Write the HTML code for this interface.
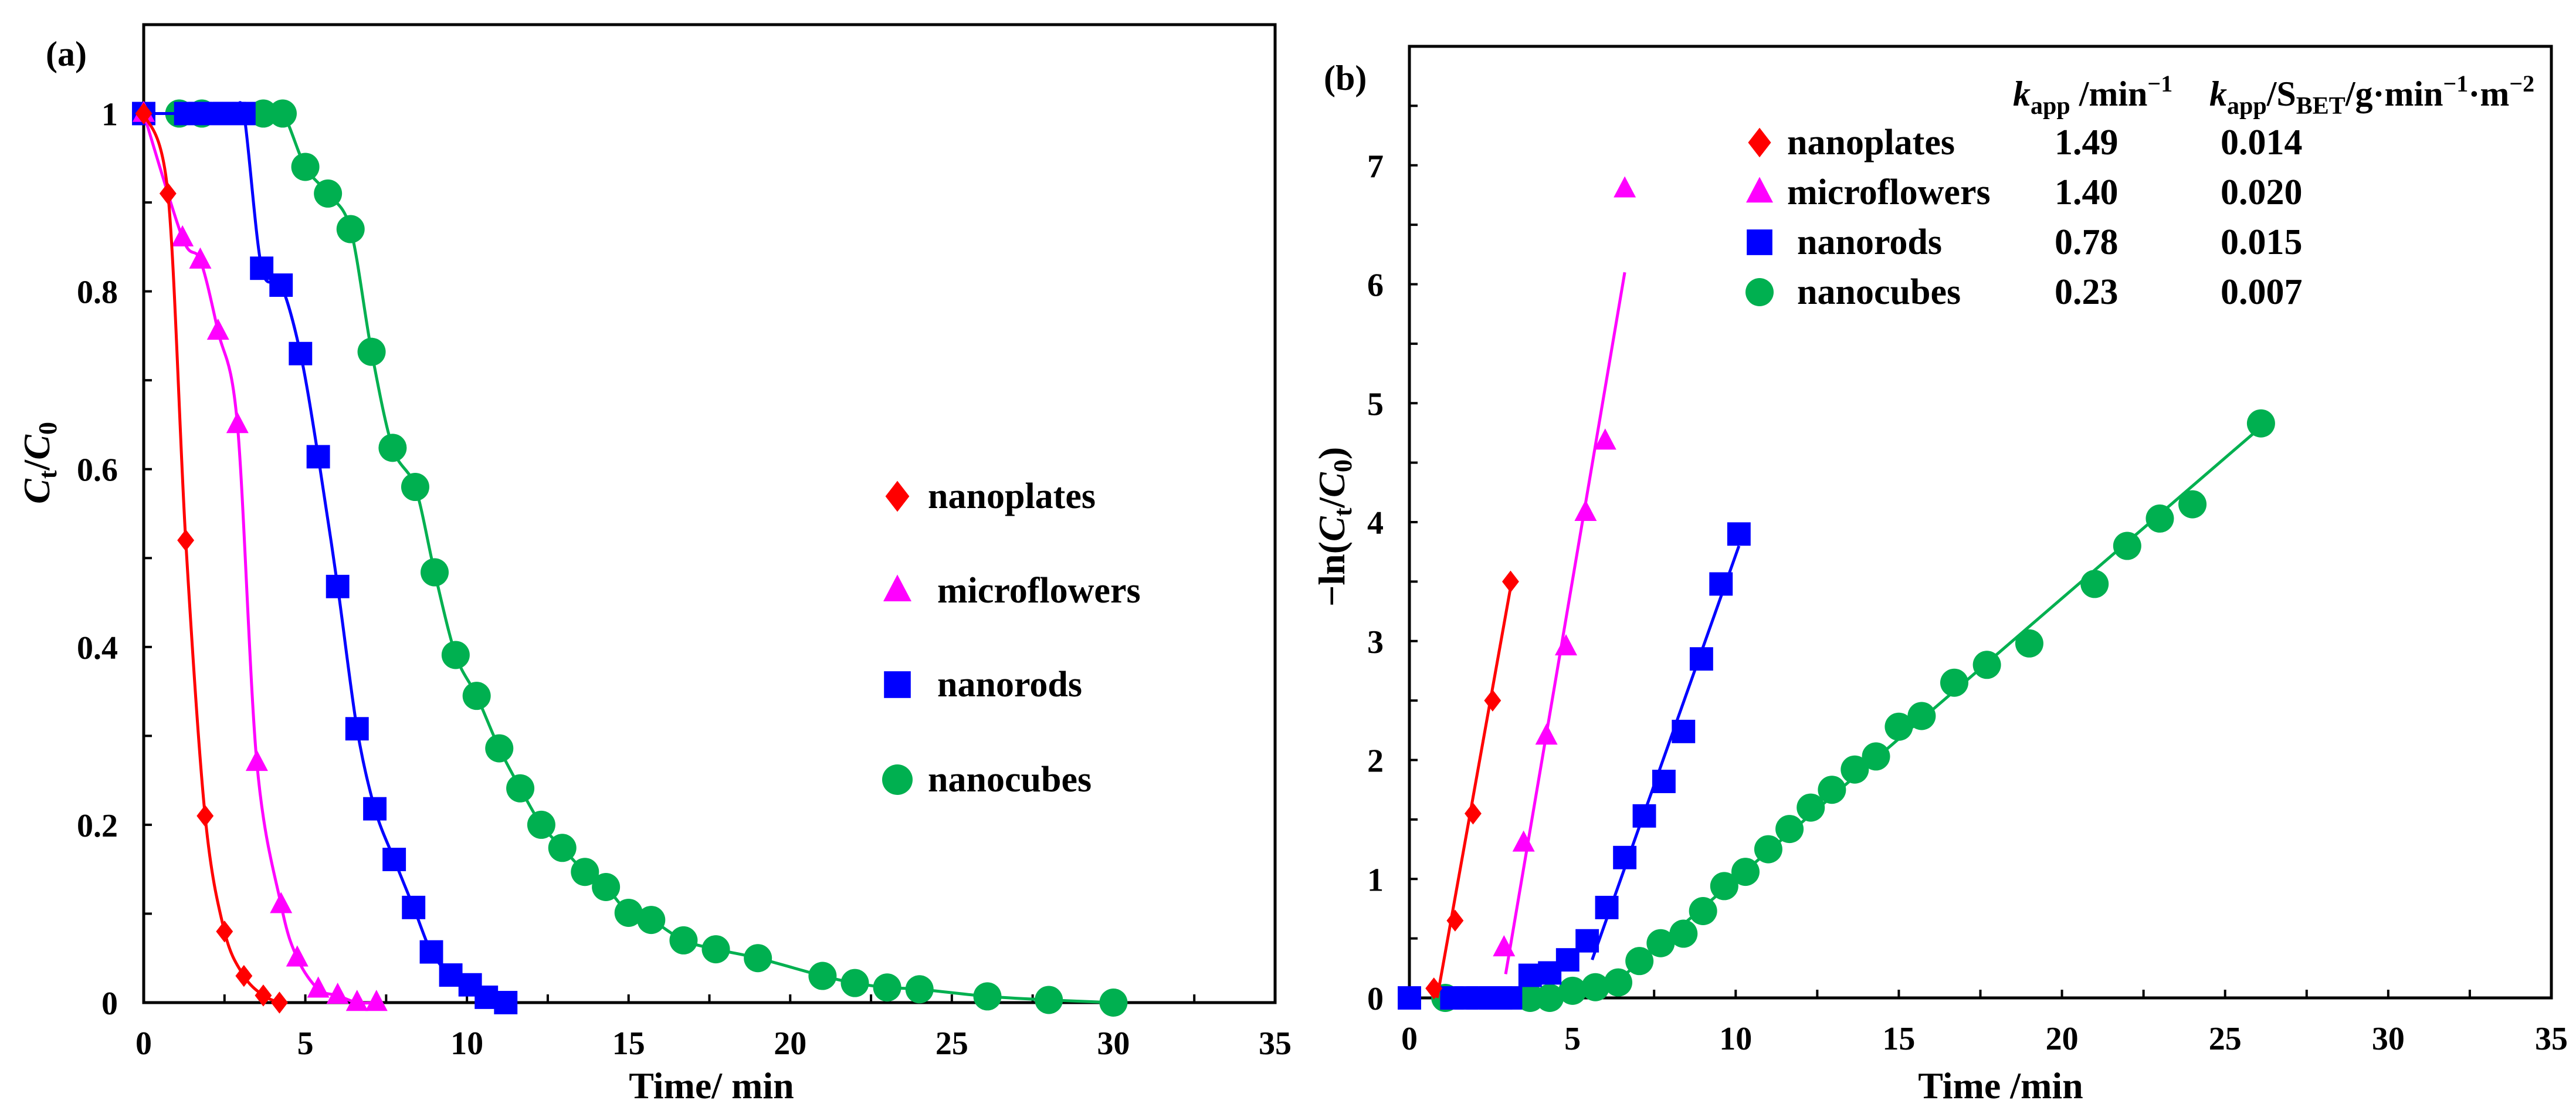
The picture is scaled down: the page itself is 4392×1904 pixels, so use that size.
<!DOCTYPE html>
<html><head><meta charset="utf-8"><style>
html,body{margin:0;padding:0;background:#fff;}
svg{display:block;font-family:"Liberation Serif",serif;font-weight:bold;}
</style></head><body>
<svg id="fig" width="4392" height="1904" viewBox="0 0 4392 1904"></svg>
<script>
// ---------- Panel (a) data ----------
const aSeriesNames = ["nanoplates","microflowers","nanorods","nanocubes"];
const aPlatesT = [0,0.75,1.3,1.9,2.5,3.1,3.7,4.2];
const aPlatesC = [1,0.91,0.52,0.21,0.08,0.03,0.008,0];
const aFlowT = [0,1.2,1.75,2.3,2.9,3.5,4.25,4.75,5.4,6,6.6,7.2];
const aFlowC = [1,0.86,0.835,0.755,0.65,0.27,0.11,0.05,0.015,0.008,0,0];
const aRodT = [0,1.3,1.75,2.1,2.5,2.8,3.1,3.65,4.25,4.85,5.4,6,6.6,7.15,7.75,8.35,8.9,9.5,10.1,10.6,11.2];
const aRodC = [1,1,1,1,1,1,1,0.826,0.807,0.73,0.614,0.468,0.308,0.218,0.161,0.107,0.057,0.031,0.02,0.006,0];
const aCubeT = [1.1,1.8,3.7,4.3,5,5.7,6.4,7.05,7.7,8.4,9,9.65,10.3,11,11.65,12.3,12.95,13.65,14.3,15,15.7,16.7,17.7,19,21,22,23,24,26.1,28,30];
const aCubeC = [1,1,1,1,0.94,0.91,0.87,0.732,0.624,0.58,0.484,0.391,0.345,0.286,0.241,0.2,0.174,0.147,0.13,0.101,0.093,0.07,0.06,0.05,0.03,0.022,0.017,0.015,0.007,0.003,0];
const aXTicks = [0,5,10,15,20,25,30,35];
const aYTicks = [0,0.2,0.4,0.6,0.8,1];
const aYTickLabels = ["0","0.2","0.4","0.6","0.8","1"];

// ---------- Panel (b) data ----------
const bPlatesT = [0.75,1.4,1.95,2.55,3.1];
const bPlatesV = [0.08,0.65,1.55,2.5,3.5];
const bPlatesFitT = [0.85,3.1];
const bPlatesFitV = [0,3.45];
const bFlowT = [2.9,3.5,4.2,4.8,5.4,6,6.6];
const bFlowV = [0.42,1.3,2.2,2.95,4.08,4.68,6.8];
const bFlowFitT = [2.95,6.6];
const bFlowFitV = [0.2,6.1];
const bRodT = [0,1.3,1.75,2.1,2.5,2.8,3.1,3.7,4.3,4.85,5.45,6.05,6.6,7.2,7.8,8.4,8.95,9.55,10.1];
const bRodV = [0,0,0,0,0,0,0,0.19,0.21,0.32,0.48,0.76,1.18,1.53,1.82,2.24,2.85,3.48,3.9];
const bRodFitT = [5.6,10.1];
const bRodFitV = [0.32,3.8];
const bCubeT = [1.1,3.7,4.3,5,5.7,6.4,7.05,7.7,8.4,9,9.65,10.3,11,11.65,12.3,12.95,13.65,14.3,15,15.7,16.7,17.7,19,21,22,23,24,26.1];
const bCubeV = [0,0,0,0.06,0.09,0.13,0.31,0.46,0.54,0.73,0.94,1.06,1.25,1.42,1.6,1.75,1.92,2.03,2.28,2.37,2.65,2.8,2.98,3.48,3.8,4.03,4.15,4.83];
const bCubeFitT = [6.2,26.1];
const bCubeFitV = [0.1,4.8];
const bXTicks = [0,5,10,15,20,25,30,35];
const bYTicks = [0,1,2,3,4,5,6,7];
const bKapp = ["1.49","1.40","0.78","0.23"];
const bKappS = ["0.014","0.020","0.015","0.007"];

const NS="http://www.w3.org/2000/svg";
const svg=document.getElementById('fig');
function mk(tag,attrs,parent){const e=document.createElementNS(NS,tag);for(const k in attrs)e.setAttribute(k,attrs[k]);(parent||svg).appendChild(e);return e;}
const COL={nanoplates:"#ff0000",microflowers:"#ff00ff",nanorods:"#0000ff",nanocubes:"#00b050"};

function marker(g,type,x,y,s){
  const c=COL[type];let e;
  if(type==="nanoplates"){e=mk('polygon',{points:`${x},${y-s*1.1} ${x+s*0.85},${y} ${x},${y+s*1.1} ${x-s*0.85},${y}`,fill:c},g);}
  else if(type==="microflowers"){e=mk('polygon',{points:`${x},${y-s*1.15} ${x+s},${y+s*0.75} ${x-s},${y+s*0.75}`,fill:c},g);}
  else if(type==="nanorods"){e=mk('rect',{x:x-s*0.95,y:y-s*0.95,width:s*1.9,height:s*1.9,fill:c},g);}
  else {e=mk('ellipse',{cx:x,cy:y,rx:s,ry:s,fill:c},g);}
  return e;
}
function smoothPath(pts){
  let d=`M${pts[0][0]},${pts[0][1]}`;
  for(let i=0;i<pts.length-1;i++){
    const p0=pts[i-1]||pts[i],p1=pts[i],p2=pts[i+1],p3=pts[i+2]||p2;
    const t=0.16;
    const c1=[p1[0]+(p2[0]-p0[0])*t,p1[1]+(p2[1]-p0[1])*t];
    const c2=[p2[0]-(p3[0]-p1[0])*t,p2[1]-(p3[1]-p1[1])*t];
    d+=` C${c1[0]},${c1[1]} ${c2[0]},${c2[1]} ${p2[0]},${p2[1]}`;
  }
  return d;
}
function text(g,str,x,y,size,anchor,extra){const t=mk('text',Object.assign({x:x,y:y,'font-size':size,'text-anchor':anchor||'start',fill:'#000'},extra||{}),g);t.textContent=str;return t;}

function axes(g,L,R,T,B,xs,ys,xTicks,yTicks,yLabels,xMinorStep,yMinorStep,xMax,yMax){
  // minor ticks
  for(let v=0;v<=xMax+1e-9;v+=xMinorStep){const X=xs(v);mk('line',{x1:X,x2:X,y1:B,y2:B-14,stroke:'#000','stroke-width':4},g);}
  for(let v=0;v<=yMax+1e-9;v+=yMinorStep){const Y=ys(v);mk('line',{x1:L,x2:L+14,y1:Y,y2:Y,stroke:'#000','stroke-width':4},g);}
  const frame=mk('rect',{x:L,y:T,width:R-L,height:B-T,fill:'none',stroke:'#000','stroke-width':5},g);
  
  
  xTicks.forEach(v=>{const t=text(g,String(v),xs(v),B+88,56,'middle');
    
    });
  yTicks.forEach((v,i)=>{const t=text(g,yLabels[i],L-44,ys(v)+20,56,'end');
    
    });
}

// ================= Panel A =================
(function(){
  const L=245,R=2174,T=42,B=1709;
  const xs=v=>L+(R-L)*v/35, ys=v=>B-(B-T)*v/1.1;
  const g=mk('g',{});
  
  
  axes(g,L,R,T,B,xs,ys,aXTicks,aYTicks,aYTickLabels,2.5,0.1,35,1.1);
  const sets=[["nanocubes",aCubeT,aCubeC,24],["nanorods",aRodT,aRodC,21],["microflowers",aFlowT,aFlowC,19],["nanoplates",aPlatesT,aPlatesC,17]];
  sets.forEach(([name,T2,C,s])=>{
    const sg=mk('g',{},g);
    
    
    const pts=T2.map((t,i)=>[xs(t),ys(C[i])]);
    if(name==="nanocubes") pts.unshift([xs(0),ys(1)]);
    const p=mk('path',{d:smoothPath(pts),fill:'none',stroke:COL[name],'stroke-width':5},sg);
    
    
    T2.forEach((t,i)=>{const m=marker(sg,name,xs(t),ys(C[i]),s);
      
      });
  });
  // legend
  const lg=mk('g',{},g);
  
  
  const rows=[846,1007,1167,1329];
  aSeriesNames.forEach((n,i)=>{
    const m=marker(lg,n,1530,rows[i],n==="nanocubes"?26:24);
    
    
    const t=text(lg,n,n==="nanoplates"||n==="nanocubes"?1582:1598,rows[i]+20,62,'start');
    
    
  });
  const la=text(g,"(a)",78,112,60,'start');
  
  
  const xt=text(g,"Time/ min",1213,1872,64,'middle');
  
  
  const yt=mk('text',{x:0,y:0,'font-size':64,'text-anchor':'middle',transform:'translate(84,789) rotate(-90)'},g);
  
  
  yt.innerHTML='<tspan font-style="italic">C</tspan><tspan font-size="44" dy="12">t</tspan><tspan dy="-12">/</tspan><tspan font-style="italic">C</tspan><tspan font-size="44" dy="12">0</tspan>';
})();

// ================= Panel B =================
(function(){
  const L=2403,R=4350,T=79,B=1701;
  const xs=v=>L+(R-L)*v/35, ys=v=>B-(B-T)*v/8;
  const g=mk('g',{});
  
  
  axes(g,L,R,T,B,xs,ys,bXTicks,bYTicks,bYTicks.map(String),2.5,0.5,35,8);
  const sets=[["nanocubes",bCubeT,bCubeV,bCubeFitT,bCubeFitV,24],["nanorods",bRodT,bRodV,bRodFitT,bRodFitV,21],["microflowers",bFlowT,bFlowV,bFlowFitT,bFlowFitV,19],["nanoplates",bPlatesT,bPlatesV,bPlatesFitT,bPlatesFitV,17]];
  sets.forEach(([name,T2,V,FT,FV,s])=>{
    const sg=mk('g',{},g);
    
    
    const ln=mk('line',{x1:xs(FT[0]),y1:ys(FV[0]),x2:xs(FT[1]),y2:ys(FV[1]),stroke:COL[name],'stroke-width':5},sg);
    
    
    T2.forEach((t,i)=>{const m=marker(sg,name,xs(t),ys(V[i]),s);
      
      });
  });
  const lg=mk('g',{},g);
  
  
  const h1=mk('text',{x:3432,y:180,'font-size':60},lg);
  
  
  h1.innerHTML='<tspan font-style="italic">k</tspan><tspan font-size="42" dy="14">app</tspan><tspan dy="-14"> /min</tspan><tspan font-size="40" dy="-24">−1</tspan>';
  const h2=mk('text',{x:3767,y:180,'font-size':60},lg);
  
  
  h2.innerHTML='<tspan font-style="italic">k</tspan><tspan font-size="42" dy="14">app</tspan><tspan dy="-14">/S</tspan><tspan font-size="42" dy="14">BET</tspan><tspan dy="-14">/g·min</tspan><tspan font-size="40" dy="-24">−1</tspan><tspan dy="24">·m</tspan><tspan font-size="40" dy="-24">−2</tspan>';
  const rows=[243,328,413,498];
  aSeriesNames.forEach((n,i)=>{
    const m=marker(lg,n,3000,rows[i],n==="nanocubes"?24:23);
    
    
    const t=text(lg,n,(n==="nanorods"||n==="nanocubes")?3064:3047,rows[i]+20,62,'start');
    
    
    const v1=text(lg,bKapp[i],3503,rows[i]+20,62,'start');
    
    
    const v2=text(lg,bKappS[i],3786,rows[i]+20,62,'start');
    
    
  });
  const lb=text(g,"(b)",2257,153,60,'start');
  
  
  const xt=text(g,"Time /min",3411,1872,64,'middle');
  
  
  const yt=mk('text',{x:0,y:0,'font-size':64,'text-anchor':'middle',transform:'translate(2292,898) rotate(-90)'},g);
  
  
  yt.innerHTML='−ln(<tspan font-style="italic">C</tspan><tspan font-size="44" dy="12">t</tspan><tspan dy="-12">/</tspan><tspan font-style="italic">C</tspan><tspan font-size="44" dy="12">0</tspan><tspan dy="-12">)</tspan>';
})();
</script>
</body></html>
